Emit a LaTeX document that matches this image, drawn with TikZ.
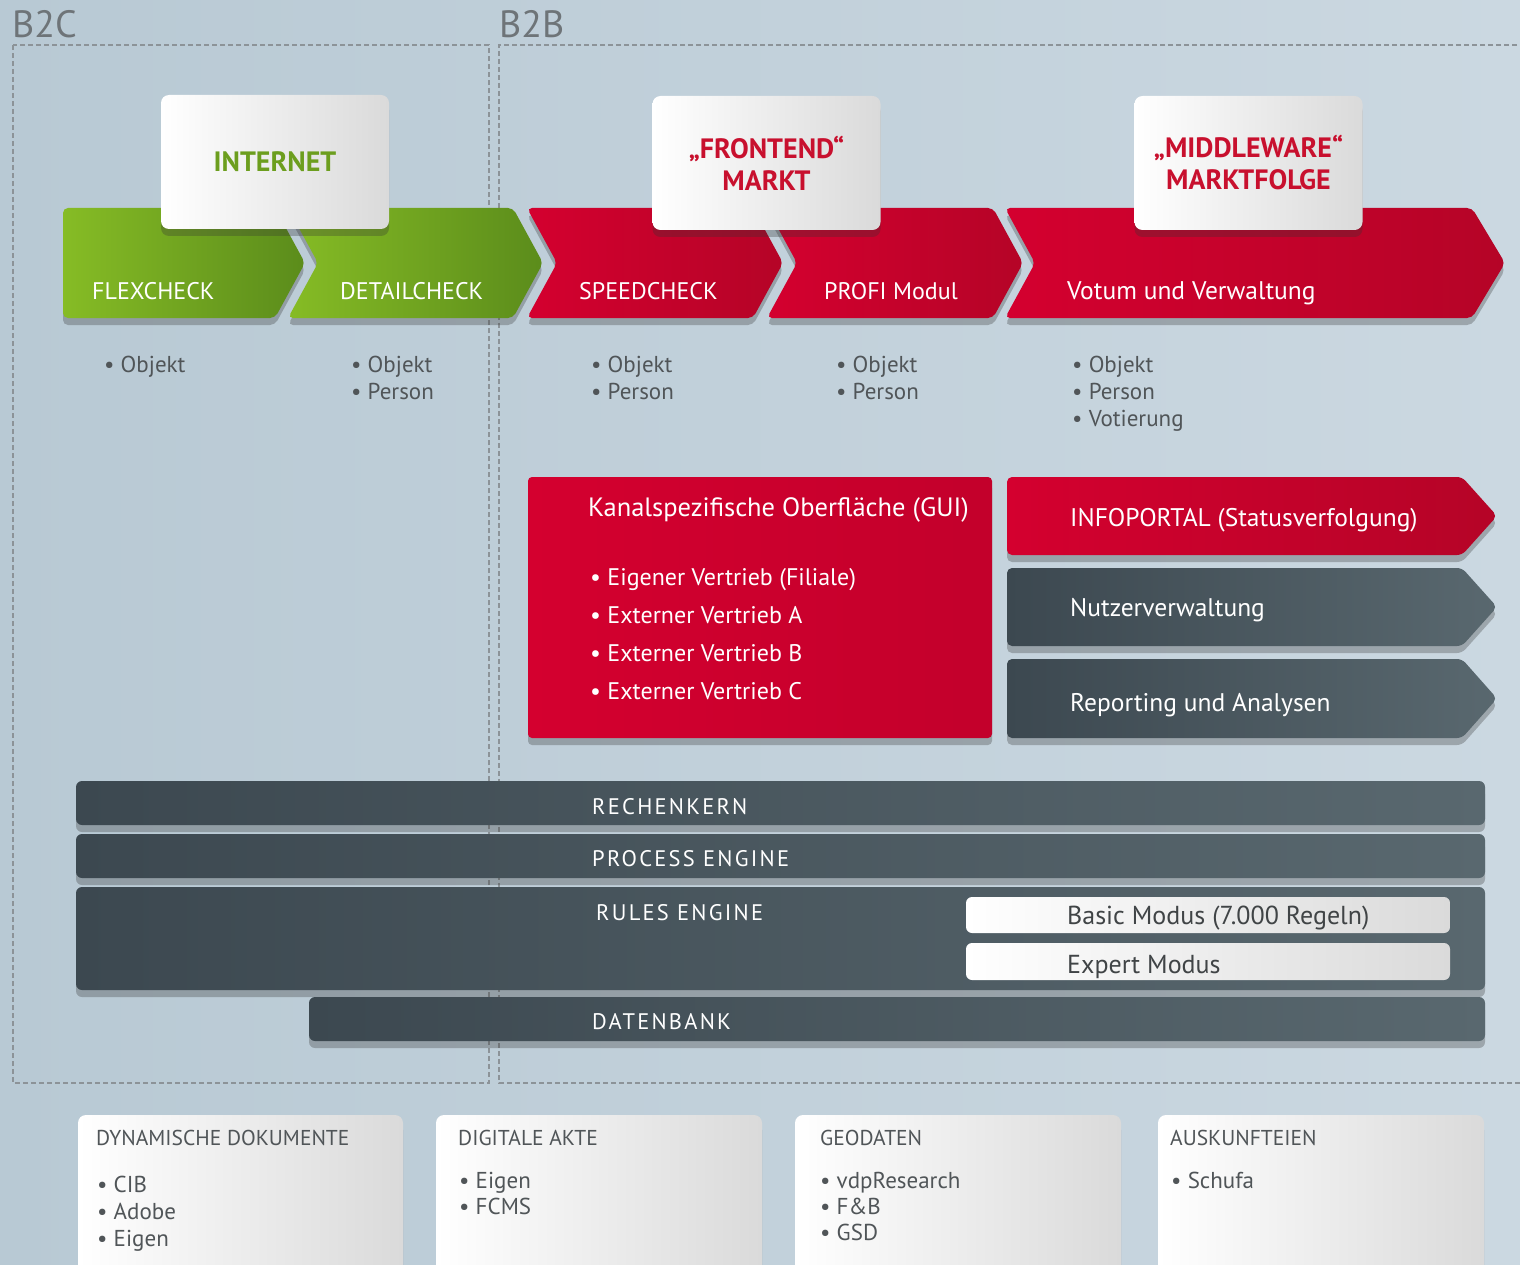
\documentclass[tikz,border=0pt]{standalone}
\usepackage{fontspec}
\setmainfont{PT Sans}
\newfontfamily\barfont[LetterSpace=10]{PT Sans}
\usetikzlibrary{shadows}

\definecolor{bgL}{HTML}{B8C9D4}
\definecolor{bgR}{HTML}{CBD8E1}
\definecolor{lineGrey}{HTML}{8C9398}
\definecolor{titleGrey}{HTML}{6E7478}
\definecolor{txtGrey}{HTML}{505558}
\definecolor{greenL}{HTML}{86BC25}
\definecolor{greenD}{HTML}{5B8C1B}
\definecolor{greenTxt}{HTML}{6C9E1E}
\definecolor{redL}{HTML}{D4002F}
\definecolor{redD}{HTML}{B50427}
\definecolor{redTxt}{HTML}{C8102E}
\definecolor{slateL}{HTML}{3C4850}
\definecolor{slateR}{HTML}{59686F}
\definecolor{cardR}{HTML}{DADADA}

%% left, right, top, bottom, tip depth, notch depth
\newcommand{\arrowshape}[6]{(#1,#3) -- (#2,#3) -- (#2+#5,{(#3+#4)/2}) -- (#2,#4) -- (#1,#4) -- (#1+#6,{(#3+#4)/2}) -- cycle}

\tikzset{
  shad/.style={drop shadow={shadow xshift=0pt, shadow yshift=-7pt, opacity=.3, fill=black!80}},
  guide/.style={draw=lineGrey, line width=1.2pt, dash pattern=on 5pt off 3pt},
  greenchev/.style={shad, rounded corners=5pt, left color=greenL, right color=greenD},
  redchev/.style={shad, rounded corners=5pt, left color=redL, right color=redD},
  slatechev/.style={shad, rounded corners=5pt, left color=slateL, middle color=slateL!85!slateR, right color=slateR},
  slatebar/.style={shad, rounded corners=6pt, left color=slateL, middle color=slateL!85!slateR, right color=slateR},
  pill/.style={rounded corners=6pt, left color=white, right color=cardR},
  card/.style={shad, rounded corners=8pt, left color=white, right color=cardR, minimum width=228pt, minimum height=134pt, align=center, font=\fontsize{28}{32}\selectfont\bfseries},
  bcard/.style={shad, rounded corners=8pt, left color=white, right color=cardR},
  chevtxt/.style={anchor=base west, inner sep=0pt, text=white, font=\fontsize{24}{27}\selectfont},
  bul/.style={anchor=base west, inner sep=0pt, text=txtGrey, font=\fontsize{23}{27}\selectfont},
  whitetxt/.style={anchor=base west, inner sep=0pt, text=white, font=\fontsize{24}{28}\selectfont},
  bartxt/.style={anchor=base west, inner sep=0pt, text=white, font=\fontsize{22.5}{26}\barfont},
  pilltxt/.style={anchor=base west, inner sep=0pt, text=txtGrey!80!black, font=\fontsize{26}{28}\selectfont},
  headtxt/.style={anchor=base west, inner sep=0pt, text=titleGrey, font=\fontsize{38}{42}\selectfont}
}

\begin{document}
\begin{tikzpicture}[x=1pt,y=-1pt]
\useasboundingbox (0,0) rectangle (1520,1265);
\shade[left color=bgL, right color=bgR] (0,0) rectangle (1520,1265);

%% B2C / B2B frames
\node[headtxt] (b2c) at (12,38) {B2C};
\node[headtxt] (b2b) at (499,38) {B2B};
\draw[guide] (13,45) rectangle (489,1083);
\draw[guide] (1525,45) -- (499,45) -- (499,1083) -- (1525,1083);

%% process chevrons
\path[greenchev] \arrowshape{63}{275}{208}{318}{30}{0};
\path[greenchev] \arrowshape{288}{513}{208}{318}{30}{30};
\path[redchev] \arrowshape{527}{753}{208}{318}{30}{30};
\path[redchev] \arrowshape{767}{993}{208}{318}{30}{30};
\path[redchev] \arrowshape{1005}{1472}{208}{318}{33}{30};

\node[chevtxt] (flex) at (92,299) {FLEXCHECK};
\node[chevtxt] (detail) at (340,299) {DETAILCHECK};
\node[chevtxt] (speed) at (579,299) {SPEEDCHECK};
\node[chevtxt] (profi) at (824,299) {PROFI Modul};
\node[chevtxt, font=\fontsize{25.5}{28}\selectfont] (votum) at (1067,299) {Votum und Verwaltung};

%% cards on top
\node[card, text=greenTxt] (internet) at (275,162) {INTERNET};
\node[card, text=redTxt] (frontend) at (766.5,163) {„FRONTEND“\\MARKT};
\node[card, text=redTxt] (middleware) at (1248.5,163) {„MIDDLEWARE“\\MARKTFOLGE};

%% items below the chevrons
\node[bul] (flex-0) at (104,372) {\textbullet\ Objekt};
\foreach \t [count=\i from 0] in {Objekt, Person}
  \node[bul] (detail-\i) at (351,372+27*\i) {\textbullet\ \t};
\foreach \t [count=\i from 0] in {Objekt, Person}
  \node[bul] (speed-\i) at (591,372+27*\i) {\textbullet\ \t};
\foreach \t [count=\i from 0] in {Objekt, Person}
  \node[bul] (profi-\i) at (836,372+27*\i) {\textbullet\ \t};
\foreach \t [count=\i from 0] in {Objekt, Person, Votierung}
  \node[bul] (votum-\i) at (1072,372+27*\i) {\textbullet\ \t};

%% GUI block
\path[shad, rounded corners=4pt, left color=redL, right color=redL!92!black] (528,477) rectangle (992,738);
\node[whitetxt, font=\fontsize{26.5}{30}\selectfont] (gui) at (588,516) {Kanalspezifische Oberfläche (GUI)};
\foreach \t [count=\i from 0] in {Eigener Vertrieb (Filiale), Externer Vertrieb A, Externer Vertrieb B, Externer Vertrieb C}
  \node[whitetxt] (gui-\i) at (590,585+38.3*\i) {\textbullet\ \t};

%% side arrows
\path[redchev] \arrowshape{1007}{1462}{477}{555}{35}{0};
\path[slatechev] \arrowshape{1007}{1462}{568}{646}{35}{0};
\path[slatechev] \arrowshape{1007}{1462}{659}{738}{35}{0};
\node[whitetxt, font=\fontsize{25.5}{28}\selectfont] (info) at (1070,526) {INFOPORTAL (Statusverfolgung)};
\node[whitetxt, font=\fontsize{25.5}{28}\selectfont] (nutzer) at (1070,616) {Nutzerverwaltung};
\node[whitetxt, font=\fontsize{25.5}{28}\selectfont] (report) at (1070,711) {Reporting und Analysen};

%% engine layers
\path[slatebar] (76,781) rectangle (1485,825);
\path[slatebar] (76,834) rectangle (1485,878);
\path[slatebar] (76,887) rectangle (1485,990);
\path[slatebar] (309,997) rectangle (1485,1041);
\node[bartxt] (rechen) at (592,814) {RECHENKERN};
\node[bartxt] (process) at (592,866) {PROCESS ENGINE};
\node[bartxt] (rules) at (596,920) {RULES ENGINE};
\node[bartxt] (daten) at (592,1029) {DATENBANK};

\path[pill] (966,897) rectangle (1450,933);
\path[pill] (966,943) rectangle (1450,980);
\node[pilltxt] (basic) at (1067,924) {Basic Modus (7.000 Regeln)};
\node[pilltxt] (expert) at (1067,973) {Expert Modus};

%% external services
\path[bcard] (78,1115) rectangle (403,1300);
\path[bcard] (436,1115) rectangle (762,1300);
\path[bcard] (795,1115) rectangle (1121,1300);
\path[bcard] (1158,1115) rectangle (1484,1300);

\node[bul, font=\fontsize{21.5}{27}\selectfont] (doku) at (96,1145) {DYNAMISCHE DOKUMENTE};
\foreach \t [count=\i from 0] in {CIB, Adobe, Eigen}
  \node[bul] (doku-\i) at (97,1192+27*\i) {\textbullet\ \t};
\node[bul, font=\fontsize{21.5}{27}\selectfont] (akte) at (458,1145) {DIGITALE AKTE};
\foreach \t [count=\i from 0] in {Eigen, FCMS}
  \node[bul] (akte-\i) at (459,1188+26*\i) {\textbullet\ \t};
\node[bul, font=\fontsize{21.5}{27}\selectfont] (geo) at (820,1145) {GEODATEN};
\foreach \t [count=\i from 0] in {vdpResearch, F\&B, GSD}
  \node[bul] (geo-\i) at (820,1188+26*\i) {\textbullet\ \t};
\node[bul, font=\fontsize{21.5}{27}\selectfont] (ausk) at (1170,1145) {AUSKUNFTEIEN};
\node[bul] (ausk-0) at (1171,1188) {\textbullet\ Schufa};
\end{tikzpicture}
\end{document}
